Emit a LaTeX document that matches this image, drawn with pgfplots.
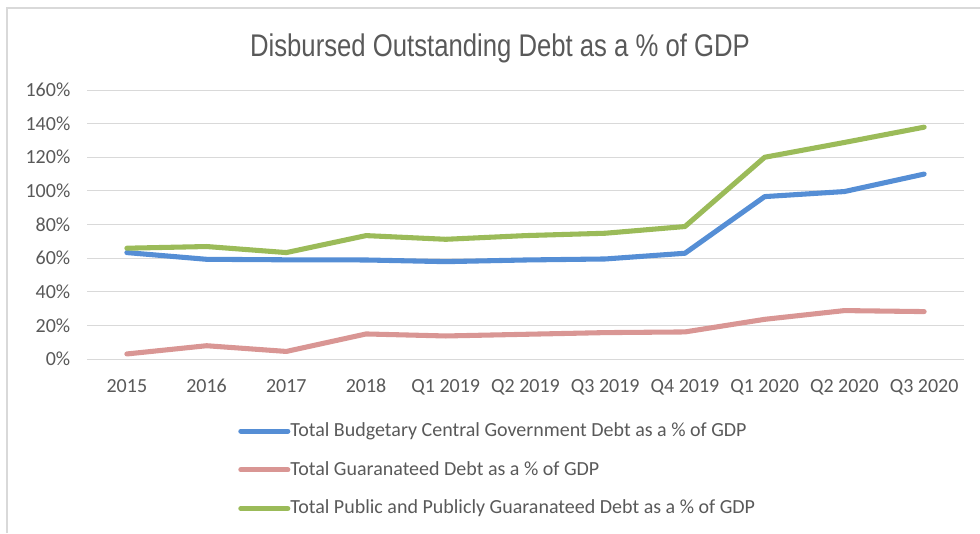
\documentclass[border=0pt]{standalone}
\usepackage{fontspec}
\setmainfont{Carlito}
\newfontfamily\titlefont[FakeStretch=0.82]{Liberation Sans}
\usepackage{pgfplots}
\pgfplotsset{compat=1.18}
\definecolor{txtgray}{RGB}{89,89,89}
\definecolor{gridgray}{RGB}{217,217,217}
\definecolor{framegray}{RGB}{217,217,217}
\definecolor{serblue}{RGB}{85,142,213}
\definecolor{serpink}{RGB}{217,150,148}
\definecolor{sergreen}{RGB}{155,187,89}

\begin{document}
\begin{tikzpicture}[x=0.75pt,y=0.75pt]
% canvas and chart frame (image pixels, y measured from bottom)
\path[use as bounding box] (0,0) rectangle (980,533);
\draw[framegray,line width=1.5pt] (7,0) -- (7,525) -- (980,525);
\node[font=\titlefont\fontsize{23.5pt}{28pt}\selectfont,text=txtgray,anchor=base]
  at (500,476) {Disbursed Outstanding Debt as a \% of GDP};
\begin{axis}[
    at={(65.25pt,130.5pt)},
    anchor=south west,
    scale only axis,
    width=657.75pt,
    height=201.75pt,
    xmin=-0.5, xmax=10.5,
    ymin=0, ymax=160,
    xtick={0,...,10},
    xticklabels={2015,2016,2017,2018,Q1 2019,Q2 2019,Q3 2019,Q4 2019,Q1 2020,Q2 2020,Q3 2020},
    ytick={0,20,...,160},
    yticklabel={\pgfmathprintnumber{\tick}\%},
    /pgf/number format/assume math mode=true,
    ymajorgrids,
    grid style={gridgray,line width=0.75pt},
    axis line style={draw=none},
    major tick length=0pt,
    tick label style={font=\fontsize{15pt}{18pt}\selectfont,text=txtgray},
    xticklabel style={yshift=-11.5pt},
    yticklabel style={xshift=-9pt},
    clip=false,
    legend cell align=left,
    legend style={
        at={(0.1722,-0.2324)}, anchor=north west,
        draw=none, fill=none, inner sep=0pt,
        font=\fontsize{15pt}{18pt}\selectfont, text=txtgray,
        row sep=15pt,
        nodes={inner sep=0pt, text height=11pt, text depth=3pt},
        /tikz/every odd column/.style={column sep=0pt},
    },
    legend image code/.code={\draw[#1] (0pt,0pt) -- (35.25pt,0pt);},
    every axis plot/.append style={line width=3.8pt, line join=round, line cap=round},
]
\addplot[serblue] coordinates {
  (0,63.3) (1,59.3) (2,59.0) (3,58.9) (4,57.9) (5,58.9)
  (6,59.5) (7,62.9) (8,96.6) (9,99.6) (10,110.0)};
\addplot[serpink] coordinates {
  (0,3.0) (1,7.9) (2,4.5) (3,14.9) (4,13.7) (5,14.7)
  (6,15.7) (7,16.1) (8,23.6) (9,28.8) (10,28.2)};
\addplot[sergreen] coordinates {
  (0,65.9) (1,66.9) (2,63.3) (3,73.4) (4,71.2) (5,73.4)
  (6,74.8) (7,78.8) (8,120.0) (9,128.8) (10,137.9)};
\legend{Total Budgetary Central Government Debt as a \% of GDP,
        Total Guaranateed Debt as a \% of GDP,
        Total Public and Publicly Guaranateed Debt as a \% of GDP}
\end{axis}
\end{tikzpicture}
\end{document}
